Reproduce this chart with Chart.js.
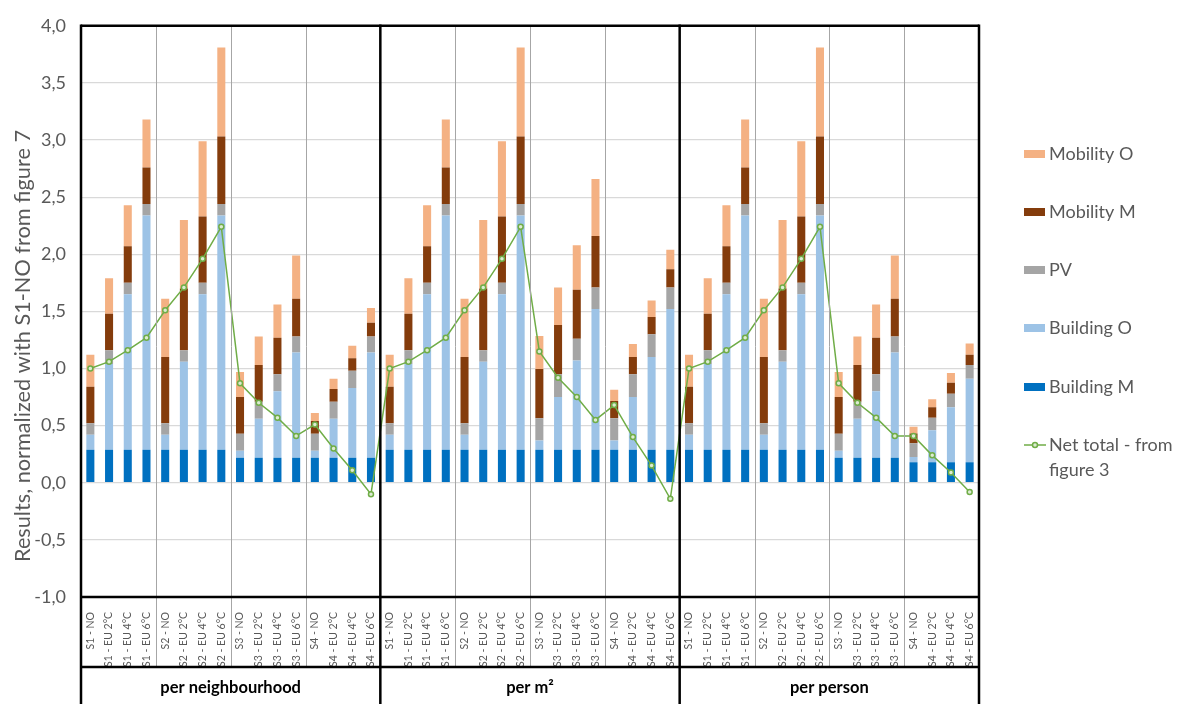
<!DOCTYPE html>
<html><head><meta charset="utf-8">
<script src="https://cdn.jsdelivr.net/npm/chart.js@4.4.0/dist/chart.umd.min.js"></script>
<style>html,body{margin:0;padding:0;background:#fff;}canvas{display:block;}</style>
</head><body>
<canvas id="c" width="1183" height="704"></canvas>
<script>
const scenarioLabels = ['S1 - NO','S1 - EU 2°C','S1 - EU 4°C','S1 - EU 6°C',
  'S2 - NO','S2 - EU 2°C','S2 - EU 4°C','S2 - EU 6°C',
  'S3 - NO','S3 - EU 2°C','S3 - EU 4°C','S3 - EU 6°C',
  'S4 - NO','S4 - EU 2°C','S4 - EU 4°C','S4 - EU 6°C'];
const categories = [...scenarioLabels, ...scenarioLabels, ...scenarioLabels];
const groups = ['per neighbourhood', 'per m²', 'per person'];
const yTitle = 'Results, normalized with S1-NO from figure 7';
const yMin = -1, yMax = 4, yStep = 0.5;

const buildingM = [
  0.29,0.29,0.29,0.29, 0.29,0.29,0.29,0.29, 0.22,0.22,0.22,0.22, 0.22,0.22,0.22,0.22,
  0.29,0.29,0.29,0.29, 0.29,0.29,0.29,0.29, 0.29,0.29,0.29,0.29, 0.29,0.29,0.29,0.29,
  0.29,0.29,0.29,0.29, 0.29,0.29,0.29,0.29, 0.22,0.22,0.22,0.22, 0.18,0.18,0.18,0.18];
const buildingO = [
  0.13,0.75,1.36,2.05, 0.13,0.77,1.36,2.05, 0.06,0.34,0.58,0.92, 0.06,0.34,0.61,0.92,
  0.13,0.75,1.36,2.05, 0.13,0.77,1.36,2.05, 0.08,0.46,0.78,1.23, 0.08,0.46,0.81,1.23,
  0.13,0.75,1.36,2.05, 0.13,0.77,1.36,2.05, 0.06,0.34,0.58,0.92, 0.045,0.28,0.48,0.73];
const pv = [
  0.10,0.12,0.10,0.10, 0.10,0.10,0.10,0.10, 0.15,0.15,0.15,0.14, 0.15,0.15,0.15,0.14,
  0.10,0.12,0.10,0.10, 0.10,0.10,0.10,0.10, 0.195,0.20,0.19,0.19, 0.195,0.20,0.20,0.19,
  0.10,0.12,0.10,0.10, 0.10,0.10,0.10,0.10, 0.15,0.15,0.15,0.14, 0.12,0.11,0.12,0.12];
const mobilityM = [
  0.32,0.32,0.32,0.32, 0.58,0.54,0.58,0.59, 0.32,0.32,0.32,0.33, 0.11,0.11,0.11,0.12,
  0.32,0.32,0.32,0.32, 0.58,0.54,0.58,0.59, 0.43,0.43,0.43,0.45, 0.15,0.15,0.15,0.16,
  0.32,0.32,0.32,0.32, 0.58,0.54,0.58,0.59, 0.32,0.32,0.32,0.33, 0.086,0.09,0.095,0.09];
const mobilityO = [
  0.28,0.31,0.36,0.42, 0.51,0.60,0.66,0.78, 0.22,0.25,0.29,0.38, 0.07,0.09,0.11,0.13,
  0.28,0.31,0.36,0.42, 0.51,0.60,0.66,0.78, 0.29,0.33,0.39,0.50, 0.10,0.115,0.146,0.17,
  0.28,0.31,0.36,0.42, 0.51,0.60,0.66,0.78, 0.22,0.25,0.29,0.38, 0.06,0.07,0.086,0.10];
const netTotal = [
  1.00,1.06,1.16,1.27, 1.51,1.71,1.96,2.24, 0.87,0.70,0.57,0.41, 0.51,0.30,0.11,-0.10,
  1.00,1.06,1.16,1.27, 1.51,1.71,1.96,2.24, 1.15,0.92,0.75,0.55, 0.68,0.40,0.15,-0.14,
  1.00,1.06,1.16,1.27, 1.51,1.71,1.96,2.24, 0.87,0.70,0.57,0.41, 0.41,0.24,0.09,-0.08];

const FONT = 'Lato, "Open Sans", sans-serif';
const GREY = '#595959';

function barDs(label, data, color) {
  return { type: 'bar', label, data, backgroundColor: color, stack: 'bars',
    barPercentage: 0.43, categoryPercentage: 1.0, order: 1 };
}

const datasets = [
  barDs('Building M', buildingM, '#0070C0'),
  barDs('Building O', buildingO, '#9DC3E6'),
  barDs('PV', pv, '#A5A5A5'),
  barDs('Mobility M', mobilityM, '#843C0C'),
  barDs('Mobility O', mobilityO, '#F4B183'),
  { type: 'line', label: 'Net total - from figure 3', data: netTotal, stack: 'line',
    borderColor: '#70AD47', borderWidth: 1.5, pointRadius: 2.5, pointBorderWidth: 1.5,
    pointBorderColor: '#70AD47', pointBackgroundColor: '#dcebd2', tension: 0, order: 0 }
];

const legendOrder = [4, 3, 2, 1, 0, 5];

const framePlugin = {
  id: 'frame',
  afterDraw(chart) {
    const { ctx, chartArea: a, scales: { x } } = chart;
    const n = categories.length;
    const edge = i => i === 0 ? a.left : i === n ? a.right :
      (x.getPixelForValue(i - 1) + x.getPixelForValue(i)) / 2;
    const bandBottom = a.bottom + 70;
    const H = chart.height;
    const seg = (x1, y1, x2, y2) => { ctx.beginPath(); ctx.moveTo(x1, y1); ctx.lineTo(x2, y2); ctx.stroke(); };
    ctx.save();
    ctx.strokeStyle = '#a6a6a6'; ctx.lineWidth = 1;
    for (let i = 4; i < n; i += 4) {
      if (i % 16 === 0) continue;
      const px = Math.round(edge(i)) + 0.5;
      seg(px, a.top, px, bandBottom);
    }
    ctx.strokeStyle = '#000'; ctx.lineWidth = 2.5;
    seg(a.left, a.top, a.right, a.top);
    seg(a.left, a.bottom, a.right, a.bottom);
    seg(a.left, bandBottom, a.right, bandBottom);
    for (let i = 0; i <= n; i += 16) {
      const px = edge(i);
      seg(px, a.top - 1.25, px, H);
    }
    ctx.fillStyle = '#000';
    ctx.font = 'bold 16.5px ' + FONT;
    ctx.textAlign = 'center'; ctx.textBaseline = 'middle';
    groups.forEach((g, k) => {
      const cx = (edge(k * 16) + edge(k * 16 + 16)) / 2;
      ctx.fillText(g, cx, (bandBottom + H) / 2 + 2);
    });
    ctx.fillStyle = GREY;
    ctx.font = '20px ' + FONT;
    const w = ctx.measureText(yTitle).width;
    const fs = 20 * 432 / w;
    ctx.font = fs.toFixed(2) + 'px ' + FONT;
    ctx.translate(23, 346);
    ctx.rotate(-Math.PI / 2);
    ctx.textAlign = 'center'; ctx.textBaseline = 'middle';
    ctx.fillText(yTitle, 0, 0);
    ctx.setTransform(1, 0, 0, 1, 0, 0);
    const ys = [154, 212, 270, 328, 387, 445];
    ctx.font = '18px ' + FONT;
    ctx.textAlign = 'left'; ctx.textBaseline = 'middle';
    legendOrder.forEach((di, k) => {
      const ds = chart.data.datasets[di];
      const y = ys[k];
      if (ds.type === 'line') {
        ctx.strokeStyle = ds.borderColor; ctx.lineWidth = 1.5;
        seg(1024, y, 1046, y);
        ctx.beginPath(); ctx.arc(1035, y, 2.5, 0, Math.PI * 2);
        ctx.fillStyle = ds.pointBackgroundColor; ctx.fill(); ctx.stroke();
        ctx.fillStyle = GREY;
        ctx.fillText('Net total - from', 1049, y);
        ctx.fillText('figure 3', 1049, y + 25);
      } else {
        ctx.fillStyle = ds.backgroundColor;
        ctx.fillRect(1024, y - 4, 21, 8);
        ctx.fillStyle = GREY;
        ctx.fillText(ds.label, 1049, y);
      }
    });
    ctx.restore();
  }
};

new Chart(document.getElementById('c'), {
  data: { labels: categories, datasets },
  options: {
    responsive: false, animation: false,
    layout: { padding: { top: 15, right: 204, left: 0, bottom: 0 } },
    plugins: { legend: { display: false }, tooltip: { enabled: false } },
    scales: {
      x: {
        stacked: true,
        grid: { display: false }, border: { display: false },
        ticks: { autoSkip: false, minRotation: 90, maxRotation: 90, padding: 7,
          color: GREY, font: { family: FONT, size: 10.5 } },
        afterFit: s => { s.height = 107; }
      },
      y: {
        stacked: true, min: yMin, max: yMax,
        grid: { color: '#d9d9d9', lineWidth: 1.3, drawTicks: false },
        border: { display: false },
        ticks: { stepSize: yStep, padding: 15, color: GREY, font: { family: FONT, size: 18 },
          callback: v => Number(v).toFixed(1).replace('.', ',') },
        afterFit: s => { s.width = 81; }
      }
    }
  },
  plugins: [framePlugin]
});
</script>
</body></html>
